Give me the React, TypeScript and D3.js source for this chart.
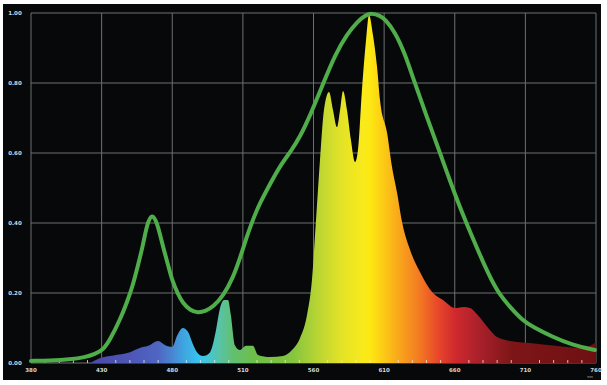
import React from "react";
import * as d3 from "d3";

const xTickLabels = [380, 430, 480, 510, 560, 610, 660, 710, 760];
const yTicks = [0, 0.2, 0.4, 0.6, 0.8, 1.0];

// Spectrum (fill) – wavelength (nm) and relative intensity
const specNm = [422, 429, 440, 450, 457, 463, 470, 475, 480, 482, 484.5, 486.7, 488.4, 490.5, 493.1, 496.1, 498.6, 500.3, 502, 503.7, 504.9, 506.6, 508.8, 512.2, 517.1, 520.7, 529.2, 538.4, 544.8, 550.4, 555.4, 558.9, 561.8, 564.6, 567.4, 571, 573.8, 576.6, 578.8, 580.9, 583.7, 586.5, 589.4, 591.5, 594.3, 597.2, 599.3, 602.1, 605, 607.1, 612.1, 615.6, 619.2, 622.7, 628.4, 635.4, 644.6, 651.7, 660.2, 666.5, 670.8, 677.9, 684.9, 689.9, 699.1, 713.3, 731, 748.7, 755.8, 760];
const specVal = [0, 0.014, 0.023, 0.031, 0.043, 0.049, 0.063, 0.051, 0.046, 0.077, 0.1, 0.089, 0.06, 0.031, 0.02, 0.031, 0.094, 0.157, 0.18, 0.18, 0.137, 0.051, 0.037, 0.049, 0.049, 0.023, 0.017, 0.02, 0.037, 0.071, 0.137, 0.237, 0.409, 0.58, 0.723, 0.774, 0.723, 0.674, 0.723, 0.777, 0.723, 0.637, 0.574, 0.609, 0.78, 0.923, 0.994, 0.937, 0.846, 0.751, 0.657, 0.56, 0.486, 0.403, 0.323, 0.26, 0.2, 0.18, 0.157, 0.16, 0.157, 0.129, 0.094, 0.074, 0.063, 0.057, 0.049, 0.043, 0.049, 0.06];

// Reference curve (green line)
const curveNm = [380, 393.4, 407.6, 418.2, 425.3, 431, 435.9, 443, 448, 452.2, 455.8, 459.3, 462.2, 465.7, 469.3, 473.5, 477.1, 479.8, 482.4, 484.5, 487.5, 490.9, 494.3, 497.3, 501.6, 505.8, 508.8, 512.9, 517.8, 522.1, 529.2, 536.2, 544.7, 550.4, 557.5, 566.7, 575.2, 583.7, 591.5, 596.4, 601.4, 607.1, 610.6, 617.7, 624.8, 630.5, 639.7, 649.6, 660.2, 670.8, 684.9, 692, 699.1, 707.6, 715.4, 729.5, 743.6, 759.2];
const curveVal = [0.006, 0.007, 0.01, 0.016, 0.026, 0.037, 0.066, 0.123, 0.174, 0.223, 0.28, 0.337, 0.398, 0.428, 0.402, 0.331, 0.28, 0.237, 0.197, 0.171, 0.151, 0.143, 0.149, 0.16, 0.191, 0.243, 0.3, 0.363, 0.417, 0.457, 0.511, 0.563, 0.609, 0.646, 0.706, 0.797, 0.88, 0.94, 0.977, 0.993, 1.0, 0.992, 0.983, 0.946, 0.883, 0.814, 0.709, 0.6, 0.48, 0.374, 0.243, 0.194, 0.16, 0.123, 0.103, 0.074, 0.051, 0.037];

// Spectrum colour stops (nm -> colour)
const colorNm = [422, 450, 470, 480, 485, 492, 500, 506, 520, 545, 562, 580, 595, 600, 610, 622, 635, 648, 660, 678, 700, 760];
const colorHex = ["#4b4aa8", "#4d56b6", "#4f66c2", "#4a86d2", "#3ea6e0", "#38c6ef", "#58c3a8", "#62bf70", "#6fbf45", "#84c440", "#b6d434", "#e4e326", "#f8ea1c", "#fde812", "#fcc916", "#f8a21c", "#f37a22", "#e8482a", "#d02a2e", "#a8202a", "#7e1618", "#6e1012"];

export default function App() {
  const W = 607, H = 385;
  const x0 = 31, step = 70.625;
  const x = d3.scaleLinear()
    .domain(xTickLabels)
    .range(xTickLabels.map((_, i) => x0 + i * step));
  const y = d3.scaleLinear().domain([0, 1]).range([363, 13]);

  const specData = specNm.map((n, i) => [n, specVal[i]] as [number, number]);
  const curveData = curveNm.map((n, i) => [n, curveVal[i]] as [number, number]);

  const area = d3.area<[number, number]>()
    .x(d => x(d[0])).y0(y(0)).y1(d => y(d[1]))
    .curve(d3.curveMonotoneX);
  const line = d3.line<[number, number]>()
    .x(d => x(d[0])).y(d => y(d[1]))
    .curve(d3.curveBasis);

  const minorTicks: number[] = [];
  for (let i = 0; i < xTickLabels.length - 1; i++) {
    for (let k = 1; k < 5; k++) {
      minorTicks.push(xTickLabels[i] + (xTickLabels[i + 1] - xTickLabels[i]) * k / 5);
    }
  }

  const x1 = x(xTickLabels[0]);
  const x2 = x(xTickLabels[xTickLabels.length - 1]);
  const font = "'DejaVu Sans', sans-serif";

  return (
    <svg width={W} height={H} style={{ position: "absolute", left: 0, top: 0 }}>
      <defs>
        <linearGradient id="spec" gradientUnits="userSpaceOnUse" x1={x(colorNm[0])} x2={x(colorNm[colorNm.length - 1])} y1={0} y2={0}>
          {colorNm.map((n, i) => (
            <stop key={i} offset={(x(n) - x(colorNm[0])) / (x(colorNm[colorNm.length - 1]) - x(colorNm[0]))} stopColor={colorHex[i]} />
          ))}
        </linearGradient>
      </defs>
      <rect x={0} y={0} width={W} height={H} fill="#ffffff" />
      <rect x={3} y={4} width={598} height={376} fill="#07080a" />
      {/* grid */}
      {yTicks.map(t => (
        <line key={"gy" + t} x1={x1} x2={x2} y1={y(t)} y2={y(t)} stroke="#6f6f6f" strokeWidth={1} />
      ))}
      {xTickLabels.map(t => (
        <line key={"gx" + t} x1={x(t)} x2={x(t)} y1={y(0)} y2={y(1)} stroke="#6f6f6f" strokeWidth={1} />
      ))}
      {/* spectrum */}
      <path d={area(specData) || ""} fill="url(#spec)" />
      {/* minor ticks */}
      {minorTicks.map((t, i) => (
        <line key={"mt" + i} x1={x(t)} x2={x(t)} y1={y(0)} y2={y(0) - 3} stroke="#e6e6e6" strokeWidth={0.8} />
      ))}
      {/* green curve */}
      <path d={line(curveData) || ""} fill="none" stroke="#4fae4a" strokeWidth={4} strokeLinejoin="round" strokeLinecap="round" />
      {/* labels */}
      {yTicks.map(t => (
        <text key={"yl" + t} x={15} y={y(t) + 2} fontSize={5.5} fontWeight="bold" fill="#d6d6d6" fontFamily={font} textAnchor="middle">
          {t.toFixed(2)}
        </text>
      ))}
      {xTickLabels.map(t => (
        <text key={"xl" + t} x={x(t)} y={372} fontSize={5.5} fontWeight="bold" fill="#d6d6d6" fontFamily={font} textAnchor="middle">
          {t}
        </text>
      ))}
      <text x={590} y={378} fontSize={3.5} fill="#bdbdbd" fontFamily={font} textAnchor="middle">nm</text>
    </svg>
  );
}
